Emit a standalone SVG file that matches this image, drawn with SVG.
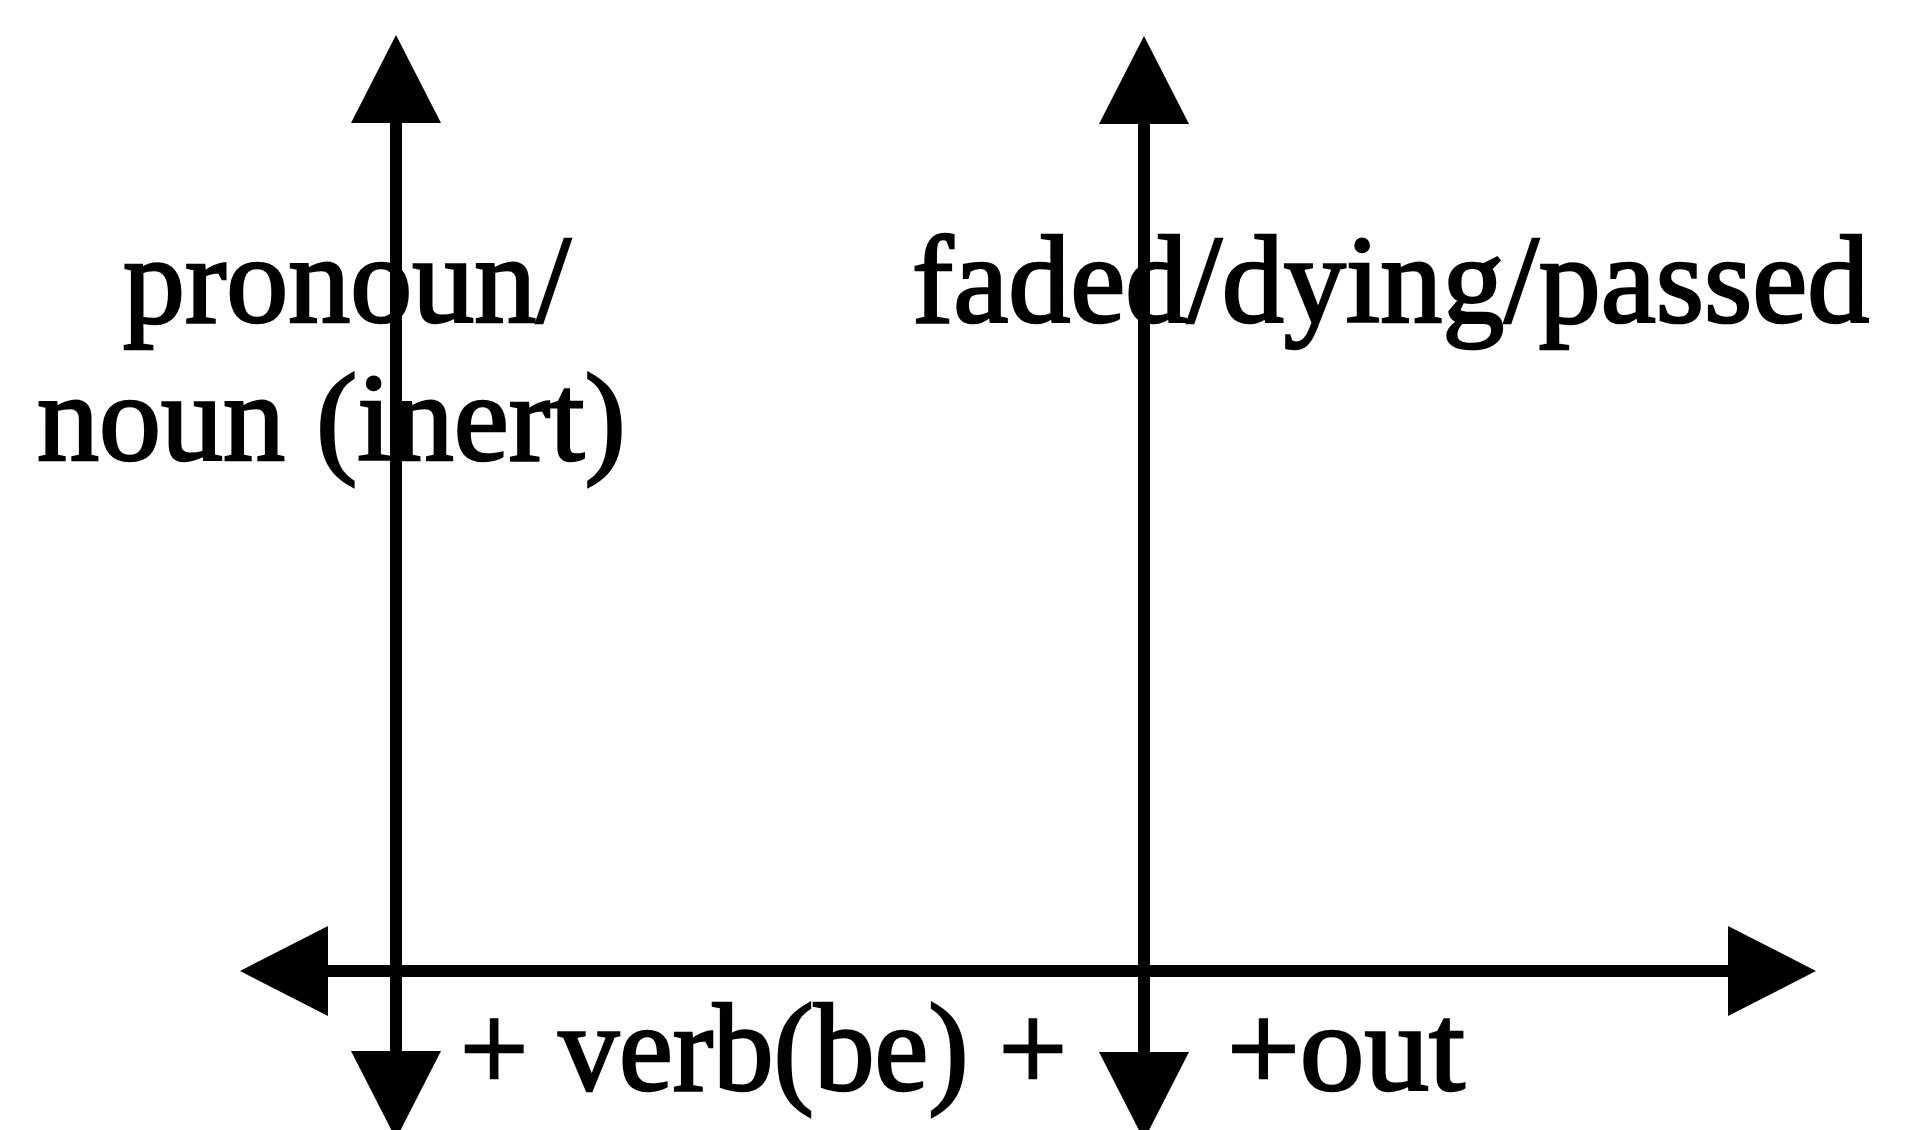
<svg xmlns="http://www.w3.org/2000/svg" width="1924" height="1130" viewBox="0 0 1924 1130">
  <style>
    .axis { stroke: #000; stroke-width: 12; fill: none; marker-start: url(#head); marker-end: url(#head); }
    .lbl { font-family: "Liberation Serif", "Times New Roman", serif; font-size: 124px; fill: #000; stroke: #000; stroke-width: 2.6; }
  </style>
  <defs>
    <marker id="head" markerUnits="userSpaceOnUse" viewBox="0 0 88 90" refX="1" refY="45" markerWidth="88" markerHeight="90" orient="auto-start-reverse">
      <path d="M0,0 L88,45 L0,90 Z" fill="#000"/>
    </marker>
  </defs>
  <rect width="1924" height="1130" fill="#fff"/>
  <g id="connectors">
    <line id="axis-horizontal" class="axis" x1="327" y1="971" x2="1729" y2="971"/>
    <line id="axis-left" class="axis" x1="396" y1="122" x2="396" y2="1052"/>
    <line id="axis-right" class="axis" x1="1144" y1="123" x2="1144" y2="1053"/>
  </g>
  <g id="label-pronoun">
    <text class="lbl" x="123" y="322">pronoun/</text>
    <text class="lbl" x="37" y="460">noun (inert)</text>
  </g>
  <g id="label-faded">
    <text class="lbl" x="912" y="322">faded/dying/passed</text>
  </g>
  <g id="label-verb">
    <text class="lbl" x="460" y="1090" textLength="607" lengthAdjust="spacingAndGlyphs">+ verb(be) +</text>
  </g>
  <g id="label-out">
    <text class="lbl" x="1227" y="1090" textLength="238" lengthAdjust="spacingAndGlyphs">+out</text>
  </g>
</svg>
